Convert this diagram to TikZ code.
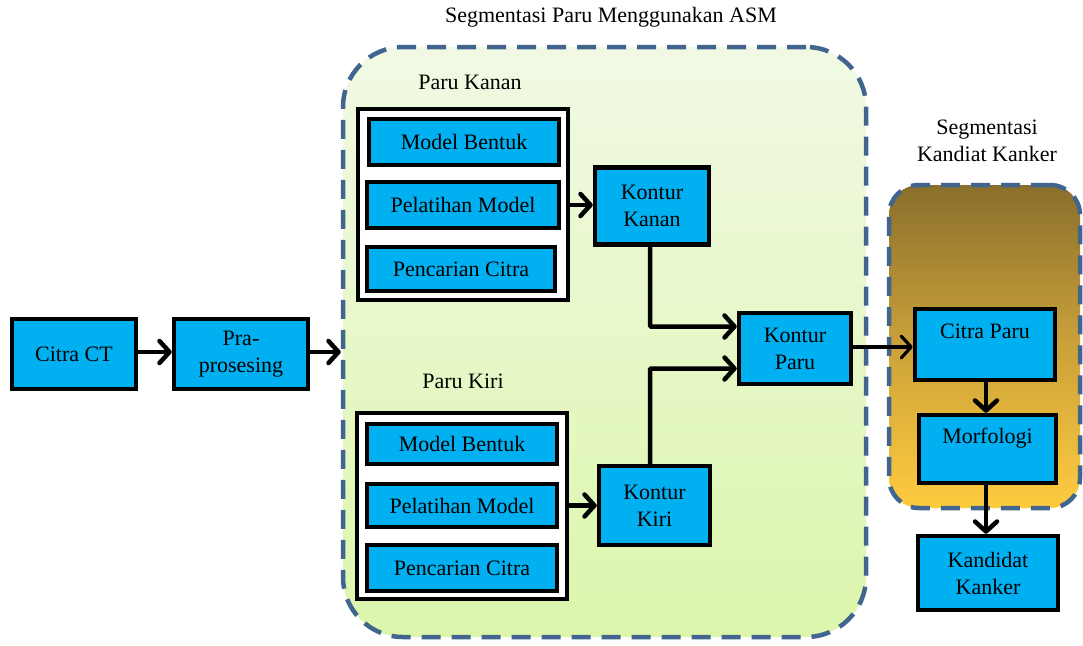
\documentclass[tikz,border=0pt]{standalone}
\usepackage{fontspec}
\setmainfont{Liberation Serif}
\usetikzlibrary{arrows.meta,calc}
\definecolor{boxblue}{HTML}{00B0F0}
\definecolor{dashblue}{HTML}{41658F}
\definecolor{greentop}{HTML}{F1F9E4}
\definecolor{greenbot}{HTML}{DCF6AC}
\definecolor{oratop}{HTML}{8A6F2C}
\definecolor{oramid}{HTML}{CBA23A}
\definecolor{orabot}{HTML}{FFCB3E}
\newcommand{\txtsize}{\fontsize{22}{27}\selectfont}
\tikzset{
  every node/.style={font=\txtsize, text=black},
  bluebox/.style={draw=black, line width=4.5, fill=boxblue, inner sep=0, align=center},
  holder/.style={draw=black, line width=4.5, fill=white, inner sep=0},
  group/.style={draw=dashblue, line width=4.5, dash pattern=on 19 off 11, rounded corners=#1, inner sep=0},
  flow/.style={draw=black, line width=4.5, -{Straight Barb[length=10,width=22,line cap=round,line join=round]}}
}
\begin{document}
\begin{tikzpicture}[x=1pt,y=-1pt]
\useasboundingbox (0,0) rectangle (1083,645);
\fill[white] (0,0) rectangle (1083,645);

% ASM segmentation group
\node[group=60, top color=greentop, bottom color=greenbot,
      minimum width=523, minimum height=590] (asm) at (604.5,342) {};
\node (asmtitle) at (611,17) {Segmentasi Paru Menggunakan ASM};

% cancer candidate segmentation group
\node[group=30, top color=oratop, bottom color=orabot, middle color=oramid,
      minimum width=191, minimum height=323] (seg) at (984.5,346.5) {};
\node[align=center] (segtitle) at (987,141) {Segmentasi\\Kandiat Kanker};

% input chain
\node[bluebox, minimum width=124, minimum height=70] (ct) at (74,354) {Citra CT};
\node[bluebox, minimum width=134, minimum height=70] (pra) at (241,354) {Pra-\\prosesing};

% right lung
\node (kanan) at (470,82) {Paru Kanan};
\node[holder, minimum width=210, minimum height=191] (hk) at (463,204.5) {};
\node[bluebox, minimum width=190, minimum height=46] (mbk) at (464,142) {Model Bentuk};
\node[bluebox, minimum width=192, minimum height=46] (plk) at (463,205) {Pelatihan Model};
\node[bluebox, minimum width=188, minimum height=44] (pck) at (461,269) {Pencarian Citra};
\node[bluebox, minimum width=114, minimum height=77] (kka) at (652,206) {Kontur\\Kanan};

% left lung
\node (kiri) at (463,381) {Paru Kiri};
\node[holder, minimum width=210, minimum height=186] (hl) at (462,506) {};
\node[bluebox, minimum width=190, minimum height=40] (mbl) at (462,444) {Model Bentuk};
\node[bluebox, minimum width=190, minimum height=43] (pll) at (462,505.5) {Pelatihan Model};
\node[bluebox, minimum width=190, minimum height=46] (pcl) at (462,568) {Pencarian Citra};
\node[bluebox, minimum width=111, minimum height=79] (kki) at (654.5,505.5) {Kontur\\Kiri};

% merged contour
\node[bluebox, minimum width=112, minimum height=71] (kp) at (795,348.5) {Kontur\\Paru};

% candidate extraction
\node[bluebox, minimum width=140, minimum height=71] (cp) at (985,344.5) {Citra Paru\\\mbox{}};
\node[bluebox, minimum width=137, minimum height=68] (mo) at (987.5,449) {Morfologi\\\mbox{}};
\node[bluebox, minimum width=140, minimum height=74] (kan) at (988,573) {Kandidat\\Kanker};

% connectors
\draw[flow] (ct.east |- 0,352) -- (pra.west |- 0,352);
\draw[flow] (pra.east |- 0,352) -- (asm.west |- 0,352);
\draw[flow] (hk.east |- plk.east) -- (kka.west |- plk.east);
\draw[flow] (hl.east |- pll.east) -- (kki.west |- pll.east);
\draw[flow, rounded corners=1] (kka.south -| 650,0) |- ($(kp.west)+(0,-22)$);
\draw[flow, rounded corners=1] (kki.north -| 650,0) |- ($(kp.west)+(0,20)$);
\draw[flow, line width=3.2] (kp.east |- 0,347) -- (cp.west |- 0,347);
\draw[flow] (cp.south -| 986,0) -- (mo.north -| 986,0);
\draw[flow] (mo.south -| 986,0) -- (kan.north -| 986,0);
\end{tikzpicture}
\end{document}
